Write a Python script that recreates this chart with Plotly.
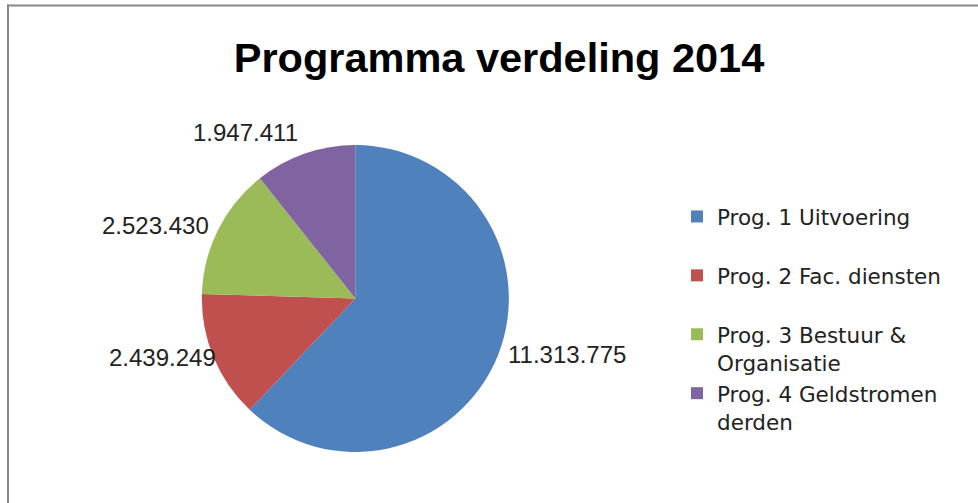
import plotly.graph_objects as go

categories = ["Prog. 1 Uitvoering", "Prog. 2 Fac. diensten", "Prog. 3 Bestuur &amp;<br>Organisatie", "Prog. 4 Geldstromen<br>derden"]
values = [11313775, 2439249, 2523430, 1947411]
colors = ["#4F81BD", "#C0504D", "#9BBB59", "#8064A2"]
title_text = "Programma verdeling 2014"

W, H = 978, 503

def fmt(v):
    return f"{v:,}".replace(",", ".")

# every legend entry occupies two lines (as in the reference)
legend_labels = [c if "<br>" in c else c + "<br> " for c in categories]

fig = go.Figure()
fig.add_trace(go.Pie(
    labels=legend_labels,
    values=values,
    sort=False,
    direction="clockwise",
    rotation=0,
    marker=dict(colors=colors, line=dict(width=0)),
    textinfo="none",
    hoverinfo="skip",
    domain=dict(x=[201.7 / W, 509.0 / W], y=[1 - 452.0 / H, 1 - 145.0 / H]),
))

# data label positions (pixel centres) per slice
label_pos = [(567, 354), (162, 357), (155, 225), (245, 132)]
annotations = []
for v, (px, py) in zip(values, label_pos):
    annotations.append(dict(
        text=fmt(v), x=px / W, y=1 - py / H, xref="paper", yref="paper",
        xanchor="center", yanchor="middle", showarrow=False,
        font=dict(family="Liberation Sans, Arial, sans-serif", size=24, color="#222222"),
    ))

shapes = [
    dict(type="line", xref="paper", yref="paper", x0=7 / W, x1=1, y0=1 - 5.5 / H, y1=1 - 5.5 / H,
         line=dict(color="#878787", width=2)),
    dict(type="line", xref="paper", yref="paper", x0=8 / W, x1=8 / W, y0=1 - 4.5 / H, y1=0,
         line=dict(color="#878787", width=2)),
]

fig.update_layout(
    width=W, height=H,
    margin=dict(l=0, r=0, t=0, b=0),
    paper_bgcolor="white",
    plot_bgcolor="white",
    title=dict(text="<b>" + title_text + "</b>", x=499 / W, xanchor="center",
               y=1 - 57 / H, yanchor="middle",
               font=dict(family="Liberation Sans, Arial, sans-serif", size=41.5, color="#000000")),
    showlegend=True,
    legend=dict(x=677 / W, xanchor="left", y=1 - 196 / H, yanchor="top",
                valign="top",
                font=dict(family="DejaVu Sans, sans-serif", size=21.5, color="#222222"),
                bgcolor="rgba(0,0,0,0)"),
    annotations=annotations,
    shapes=shapes,
)

fig.write_html("out.html", config={"displayModeBar": False},
               post_script="document.body.style.margin='0px';")
